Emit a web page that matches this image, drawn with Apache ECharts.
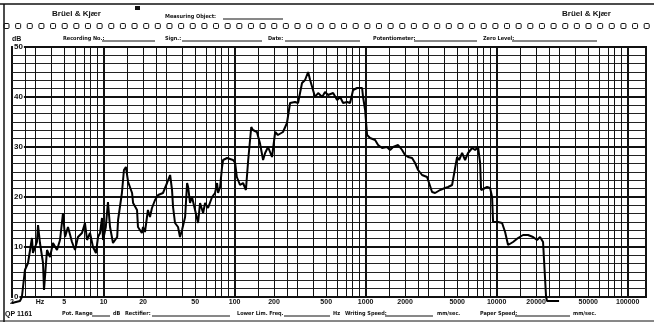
<!DOCTYPE html>
<html><head><meta charset="utf-8">
<script src="https://cdn.jsdelivr.net/npm/echarts@6/dist/echarts.min.js"></script>
<style>html,body{margin:0;padding:0;background:#fff}#c{width:654px;height:325px}</style>
</head><body><div id="c"></div>
<script>
// Frequency (Hz) of each read point along the recorder trace
const freqHz = [2.0, 2.30, 2.38, 2.51, 2.65, 2.84, 2.89, 3.10, 3.16, 3.27,
 3.45, 3.51, 3.70, 3.90, 4.11, 4.41, 4.65, 4.90, 5.08, 5.35,
 5.74, 6.05, 6.38, 6.84, 7.21, 7.48, 7.88, 8.30, 8.75, 9.07,
 9.40, 9.73, 9.91, 10.4, 10.8, 11.2, 11.8, 12.2, 12.7, 12.9,
 13.8, 14.3, 14.8, 15.4, 15.9, 16.5, 16.8, 18.0, 18.3, 19.6,
 20.0, 20.7, 21.8, 22.6, 23.4, 24.7, 26.1, 27.0, 28.4, 30.5,
 32.2, 33.3, 33.9, 35.1, 37.0, 38.3, 39.7, 41.9, 43.4, 44.2,
 45.7, 47.3, 49.9, 52.6, 54.5, 57.5, 59.5, 62.7, 67.3, 70.9,
 73.5, 74.8, 77.5, 80.2, 81.7, 87.6, 97.3, 101, 104, 110,
 116, 122, 127, 134, 138, 148, 156, 165, 171, 180,
 193, 204, 214, 234, 251, 265, 289, 305, 327, 345,
 364, 377, 390, 411, 434, 466, 490, 517, 565, 606,
 639, 673, 722, 761, 802, 861, 940, 956, 991, 1026,
 1082, 1181, 1245, 1335, 1457, 1536, 1620, 1770, 1898, 2000,
 2109, 2262, 2385, 2514, 2696, 2944, 3049, 3215, 3389, 3700,
 4040, 4260, 4570, 4820, 4990, 5170, 5450, 5740, 6050, 6500,
 6850, 7220, 7480, 7610, 7880, 8450, 8910, 9230, 9390, 10260,
 11000, 11600, 12220, 13340, 14560, 15900, 17360, 18960, 20330, 21440,
 22600, 23400, 23830, 24260, 29950];
// Level (dB) at each point
const levelDb = [-1.2, -0.8, 0, 5.4, 6.8, 11.8, 8.8, 11.0, 14.4, 10.8,
 6.8, 1.4, 9.4, 8.0, 10.8, 9.4, 11.4, 16.8, 12.0, 14.0,
 11.0, 9.4, 12.0, 12.8, 14.8, 11.4, 12.8, 10.0, 8.8, 12.0,
 12.8, 15.8, 11.4, 14.0, 19.0, 14.0, 10.8, 10.4, 12.0, 15.4,
 20.8, 25.4, 26.0, 23.0, 23.4, 20.8, 18.8, 17.4, 14.0, 12.8,
 14.0, 13.0, 17.4, 16.0, 17.8, 19.4, 20.4, 20.0, 20.8, 22.8,
 24.4, 21.4, 18.0, 14.8, 14.0, 12.0, 13.4, 16.0, 22.8, 22.0,
 18.8, 20.0, 17.4, 14.8, 18.8, 16.8, 18.8, 17.8, 20.0, 20.8,
 22.8, 20.8, 22.0, 26.0, 27.4, 27.8, 27.4, 26.8, 24.0, 22.4,
 22.8, 21.4, 27.4, 34.0, 33.4, 33.0, 30.8, 27.4, 28.8, 30.0,
 28.0, 33.0, 32.4, 33.0, 34.8, 38.8, 39.0, 38.8, 42.8, 43.4,
 45.0, 43.4, 43.0, 40.0, 40.8, 40.0, 41.0, 40.4, 40.8, 39.4,
 40.0, 38.8, 39.0, 38.8, 41.4, 41.8, 41.8, 40.0, 37.4, 32.4,
 31.8, 31.4, 30.4, 29.8, 30.0, 29.4, 30.0, 30.4, 29.4, 28.4,
 28.0, 27.8, 26.8, 25.4, 24.4, 24.0, 23.8, 21.0, 20.8, 21.4,
 21.8, 22.0, 22.4, 25.8, 28.0, 27.4, 28.8, 27.4, 28.8, 29.8,
 29.4, 30.0, 26.8, 21.4, 21.8, 22.0, 21.8, 20.0, 15.0, 15.0,
 14.8, 13.0, 10.4, 11.0, 11.8, 12.4, 12.4, 12.0, 11.4, 12.0,
 11.0, 10.8, 0, -0.8, -0.8];

const freqTickLabels = [2, 5, 10, 20, 50, 100, 200, 500, 1000, 2000, 5000, 10000, 20000, 50000, 100000];
const hzLabelAt = 3.27;
const freqMinHz = 2;
const freqMaxHz = 138000;
const decades = [1, 10, 100, 1000, 10000, 100000];
const gridMantissas = [1, 1.5, 2, 2.5, 3, 4, 5, 6, 7, 8, 9];
const dbMin = 0, dbMax = 50, dbStep = 10;

const L = Math.log10;
const traceData = freqHz.map((f, i) => [L(f), levelDb[i]]);

const vLines = [];
decades.forEach(d => gridMantissas.forEach(m => {
  const f = d * m;
  if (f > freqMinHz * 1.001 && f < freqMaxHz) {
    vLines.push({ xAxis: L(f), lineStyle: { width: m === 1 ? 2 : 1 } });
  }
}));

const labelVals = freqTickLabels.map(L).concat([L(hzLabelAt)]);

const F = 'bold 5.5px "Liberation Sans Narrow", "DejaVu Sans Condensed", "Liberation Sans", sans-serif';
const graphics = [];
function txt(x, y, t, font) {
  graphics.push({ type: 'text', x: x, y: y, silent: true,
    style: { text: t, font: font || F, fill: '#111', verticalAlign: 'middle' } });
}
function hl(x1, x2, y, w) {
  graphics.push({ type: 'line', silent: true, shape: { x1: x1, y1: y, x2: x2, y2: y },
    style: { stroke: '#111', lineWidth: w || 1 } });
}
// paper borders
hl(0, 654, 4, 1.5);
graphics.push({ type: 'line', silent: true, shape: { x1: 4, y1: 4, x2: 4, y2: 322 }, style: { stroke: '#111', lineWidth: 1.5 } });
graphics.push({ type: 'rect', silent: true, shape: { x: 135, y: 6, width: 5, height: 4 }, style: { fill: '#111' } });
const BK = 'bold 8px "Liberation Sans", Arial, sans-serif';
txt(52, 14, 'Brüel & Kjær', BK);
txt(562, 14, 'Brüel & Kjær', BK);
txt(165, 17, 'Measuring Object:');
hl(223, 283, 19);
// sprocket holes
for (let i = 0; i < 56; i++) {
  graphics.push({ type: 'rect', silent: true, shape: { x: 4 + i * 11.64, y: 23.5, width: 5, height: 5, r: 1 },
    style: { fill: 'none', stroke: '#111', lineWidth: 1 } });
}
// form row
txt(63, 39, 'Recording No.:'); hl(102, 155, 41);
txt(165, 39, 'Sign.:'); hl(182, 262, 41);
txt(268, 39, 'Date:'); hl(285, 360, 41);
txt(373, 39, 'Potentiometer:'); hl(414, 477, 41);
txt(483, 39, 'Zero Level:'); hl(512, 597, 41);
// bottom row
txt(5, 314, 'QP 1161', 'bold 7px "Liberation Sans", Arial, sans-serif');
txt(62, 314, 'Pot. Range'); hl(92, 110, 316); txt(113, 314, 'dB');
txt(125, 314, 'Rectifier:'); hl(152, 230, 316);
txt(237, 314, 'Lower Lim. Freq.'); hl(284, 330, 316); txt(333, 314, 'Hz');
txt(345, 314, 'Writing Speed:'); hl(385, 433, 316); txt(437, 314, 'mm/sec.');
txt(480, 314, 'Paper Speed:'); hl(515, 570, 316); txt(573, 314, 'mm/sec.');
hl(0, 654, 321, 1);

const chart = echarts.init(document.getElementById('c'), null, { renderer: 'canvas' });
chart.setOption({
  animation: false,
  backgroundColor: '#fff',
  grid: { left: 12, right: 8, top: 47, bottom: 28, show: true, borderColor: '#111', borderWidth: 2 },
  xAxis: {
    type: 'value', min: L(freqMinHz), max: L(freqMaxHz),
    axisLine: { show: false }, axisTick: { show: false }, splitLine: { show: false },
    axisLabel: {
      customValues: labelVals, margin: 2, color: '#111',
      fontSize: 7, fontWeight: 'bold', fontFamily: 'Liberation Sans',
      formatter: v => Math.abs(v - L(hzLabelAt)) < 1e-6 ? 'Hz' : String(Math.round(Math.pow(10, v)))
    }
  },
  yAxis: {
    type: 'value', min: dbMin, max: dbMax, interval: dbStep,
    name: 'dB', nameLocation: 'end', nameGap: 4,
    nameTextStyle: { fontSize: 7, fontWeight: 'bold', color: '#111', align: 'left', fontFamily: 'Liberation Sans' },
    axisLine: { show: false }, axisTick: { show: false },
    axisLabel: { inside: true, margin: 1, color: '#111', fontSize: 8, fontWeight: 'bold',
      fontFamily: 'Liberation Sans', backgroundColor: '#fff', padding: [0, 1] },
    splitLine: { show: true, lineStyle: { color: '#111', width: 2 } },
    minorTick: { show: false, splitNumber: 6 },
    minorSplitLine: { show: true, lineStyle: { color: '#222', width: 1 } }
  },
  series: [{
    type: 'line', data: traceData, showSymbol: false, clip: false, z: 10,
    lineStyle: { color: '#000', width: 2 },
    markLine: { silent: true, symbol: ['none', 'none'], label: { show: false },
      lineStyle: { color: '#111', type: 'solid' }, data: vLines, z: 1 }
  }],
  graphic: graphics
});
</script></body></html>
